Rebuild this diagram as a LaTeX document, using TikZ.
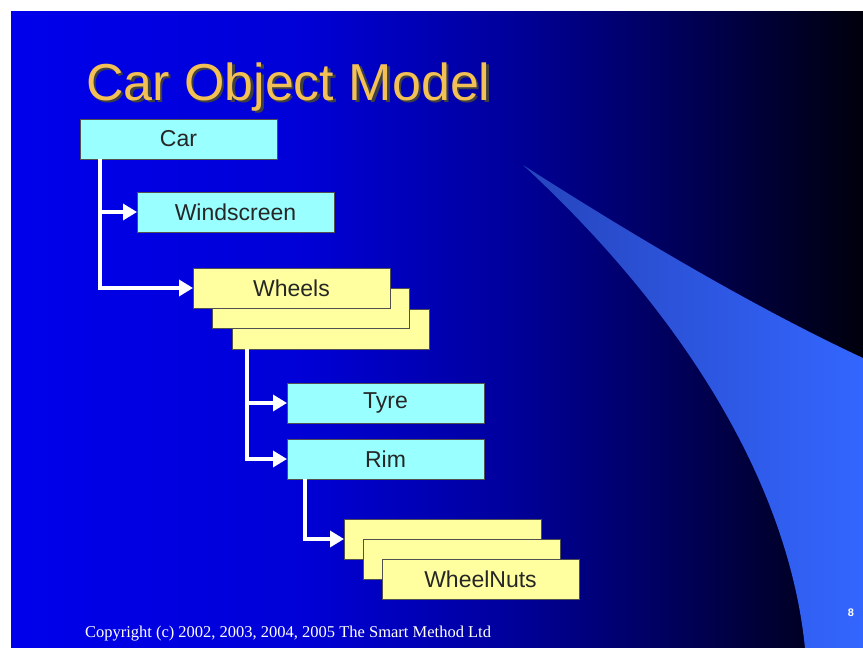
\documentclass[tikz,border=0pt]{standalone}
\usepackage{fontspec}
\setmainfont{Liberation Sans}
\newfontfamily\copyfont{Liberation Serif}
\usetikzlibrary{arrows.meta}
\definecolor{sA}{RGB}{0,0,235}
\definecolor{sB}{RGB}{0,0,215}
\definecolor{sC}{RGB}{0,0,160}
\definecolor{sD}{RGB}{0,0,80}
\definecolor{sE}{RGB}{0,0,12}
\definecolor{wA}{RGB}{38,68,188}
\definecolor{wB}{RGB}{51,102,255}
\definecolor{cyanfill}{RGB}{153,255,255}
\definecolor{yelfill}{RGB}{255,255,160}
\definecolor{boxline}{RGB}{80,80,80}
\definecolor{titlec}{RGB}{242,192,84}
\pgfdeclarehorizontalshading{slidebg}{100bp}{color(0bp)=(sA); color(25bp)=(sA); color(42bp)=(sB); color(53.5bp)=(sC); color(65.5bp)=(sD); color(75bp)=(sE); color(100bp)=(sE)}
\begin{document}
\begin{tikzpicture}[x=1pt,y=-1pt,
  box/.style={rectangle, draw=boxline, line width=0.8pt, minimum width=197pt, minimum height=40pt, inner sep=0pt, outer sep=0pt, anchor=north west, font=\fontsize{23}{26}\selectfont, text=black!85},
  cyanbox/.style={box, fill=cyanfill},
  yelbox/.style={box, fill=yelfill},
  conn/.style={draw=white, line width=3.4pt, -{Triangle[length=14pt,width=16pt]}},
  plain/.style={inner sep=0pt, outer sep=0pt}]
\useasboundingbox (0,0) rectangle (863,648);
\fill[white] (0,0) rectangle (863,648);
\shade[shading=slidebg] (11,11) rectangle (863,648);
\shade[left color=wA, right color=wB] (523,165) .. controls (640,240) and (760,310) .. (863,358) -- (863,648) -- (805,648) .. controls (788,480) and (680,310) .. (523,165) -- cycle;
\node[plain, anchor=base west, text=titlec, font=\fontsize{52}{60}\selectfont] (title) at (86,100)
  {\makebox[0pt][l]{\hspace{2.5pt}\raisebox{-2.5pt}{\color{black!75}Car Object Model}}Car Object Model};
\node[cyanbox] (car) at (80,119) {Car};
\node[cyanbox] (wind) at (137,192) {Windscreen};
\node[yelbox] (wheels3) at (232,309) {};
\node[yelbox] (wheels2) at (212,288) {};
\node[yelbox] (wheels1) at (193,268) {Wheels};
\node[cyanbox] (tyre) at (287,383) {Tyre};
\node[cyanbox] (rim) at (287,439) {Rim};
\node[yelbox] (nuts1) at (344,519) {};
\node[yelbox] (nuts2) at (363,539) {};
\node[yelbox] (nuts3) at (382,559) {WheelNuts};
\draw[conn] ([xshift=20pt]car.south west) |- (wind.west);
\draw[conn] ([xshift=20pt]car.south west) |- (wheels1.west);
\draw[conn] ([xshift=15pt]wheels3.south west) |- (tyre.west);
\draw[conn] ([xshift=15pt]wheels3.south west) |- (rim.west);
\draw[conn] ([xshift=18pt]rim.south west) |- (nuts1.west);
\node[plain, anchor=base west, text=white, font=\copyfont\fontsize{16.5}{18}\selectfont] (copy) at (85,637) {Copyright (c) 2002, 2003, 2004, 2005 The Smart Method Ltd};
\node[plain, text=white, font=\bfseries\fontsize{11}{12}\selectfont] (pagenum) at (851,613) {8};
\end{tikzpicture}
\end{document}
